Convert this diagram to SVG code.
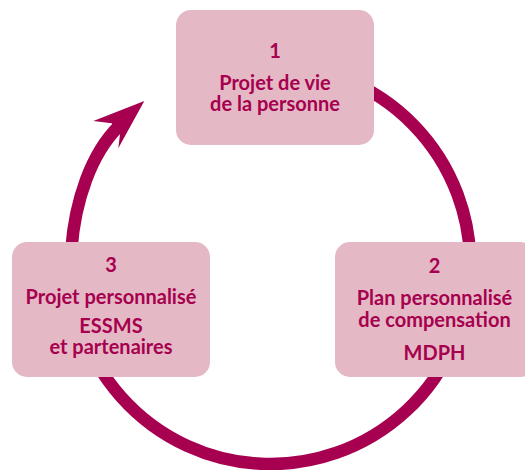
<svg xmlns="http://www.w3.org/2000/svg" width="525" height="470" viewBox="0 0 525 470">
<style>
.box{fill:#E4B9C5}
.ring{fill:none;stroke:#A80050;stroke-width:12.5}
.arrow{fill:#A80050}
text{font-family:Lato,"Open Sans","Liberation Sans",sans-serif;font-weight:bold;font-size:20px;fill:#A6004F;text-anchor:middle}
</style>
<rect width="525" height="470" fill="#fff"/>
<g id="connectors">
<path class="ring" d="M118.5,126.5 C91.3,153.7 75,200 71.3,250 A199.7,199.7 0 1 0 270.5,64.6"/>
<polygon class="arrow" points="144.3,101 93.3,121 111.7,123.3 120,134.3 118.3,148.3"/>
</g>
<g id="node1">
<rect class="box" x="176" y="10" width="198" height="135" rx="15"/>
<text x="275" y="58">1</text>
<text x="275" y="90">Projet de vie</text>
<text x="275" y="111">de la personne</text>
</g>
<g id="node2">
<rect class="box" x="335" y="242" width="200" height="135" rx="15"/>
<text x="434.5" y="273">2</text>
<text x="434.5" y="305">Plan personnalisé</text>
<text x="434.5" y="327">de compensation</text>
<text x="434.5" y="360">MDPH</text>
</g>
<g id="node3">
<rect class="box" x="12" y="242" width="198" height="135" rx="15"/>
<text x="111" y="272">3</text>
<text x="111" y="304">Projet personnalisé</text>
<text x="111" y="333">ESSMS</text>
<text x="111" y="354">et partenaires</text>
</g>
</svg>
